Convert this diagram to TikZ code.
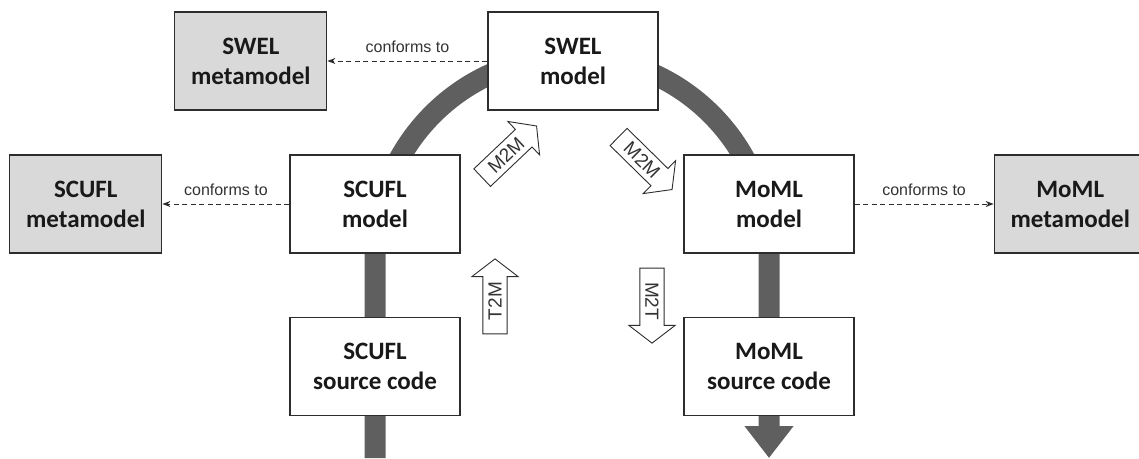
\documentclass[tikz,border=0pt]{standalone}
\usepackage{fontspec}
\setmainfont{Liberation Sans}
\newfontfamily\boxfont{Carlito}
\usetikzlibrary{positioning}
\usetikzlibrary{shapes.arrows}
\usetikzlibrary{arrows.meta}
\usetikzlibrary{backgrounds}

\definecolor{bandgray}{RGB}{95,95,95}
\definecolor{metagray}{RGB}{217,217,217}
\definecolor{framegray}{RGB}{45,45,45}

\begin{document}
\begin{tikzpicture}[x=1pt,y=1pt]
    \tikzset{
      >={Stealth[length=8pt,width=6pt]},
      every node/.style={inner sep=0pt, text=black!90},
      model/.style={draw=framegray, line width=1.2pt, fill=white,
        minimum width=170pt, minimum height=98pt, align=center,
        font=\boxfont\bfseries\fontsize{25}{30}\selectfont},
      metamodel/.style={model, fill=metagray, minimum width=152pt},
      conforms/.style={->, dash pattern=on 5pt off 3.5pt, line width=0.9pt, draw=framegray},
      conflabel/.style={above=8pt, text=black!80, font=\fontsize{16}{16}\selectfont},
      band/.style={line width=21pt, draw=bandgray},
      trafo/.style={single arrow, draw=framegray, line width=0.9pt, fill=white,
        minimum height=75pt, minimum width=46pt, single arrow head extend=11pt,
        single arrow tip angle=105, inner xsep=2pt, inner ysep=5pt,
        text=black!80, font=\fontsize{19}{19}\selectfont},
    }
    \useasboundingbox (0,0) rectangle (1139,-458);

    \node[model] (swelmod) at (573,-61) {SWEL\\model};
    \node[metamodel, left=160pt of swelmod] (swelmeta) {SWEL\\metamodel};
    \node[model] (scmod) at (375,-204) {SCUFL\\model};
    \node[metamodel, left=127pt of scmod] (scmeta) {SCUFL\\metamodel};
    \node[model] (momod) at (769,-204) {MoML\\model};
    \node[metamodel, right=139pt of momod] (mometa) {MoML\\metamodel};
    \node[model, below=63pt of scmod] (scsrc) {SCUFL\\source code};
    \node[model, below=63pt of momod] (mosrc) {MoML\\source code};

    \coordinate (scbot) at (375,-458);
    \coordinate (mobot) at (769,-458);

    % the workflow band behind the boxes
    \begin{pgfonlayer}{background}
      \draw[band, -{Triangle[width=47pt,length=32pt]}]
        (scbot) -- (scmod.south) arc[start angle=180, end angle=0, radius=197pt] -- (mobot);
    \end{pgfonlayer}

    \draw[conforms] (swelmod) -- node[conflabel] {conforms to} (swelmeta);
    \draw[conforms] (scmod) -- node[conflabel] {conforms to} (scmeta);
    \draw[conforms] (momod) -- node[conflabel] {conforms to} (mometa);

    \node[trafo, rotate=43.5] (m2ml) at (506,-155) {M2M};
    \node[trafo, rotate=-44.5] (m2mr) at (642,-160) {M2M};
    \node[trafo, rotate=90] (t2m) at (495,-301) {T2M};
    \node[trafo, rotate=-90] (m2t) at (652,-301) {M2T};
  \end{tikzpicture}
\end{document}
